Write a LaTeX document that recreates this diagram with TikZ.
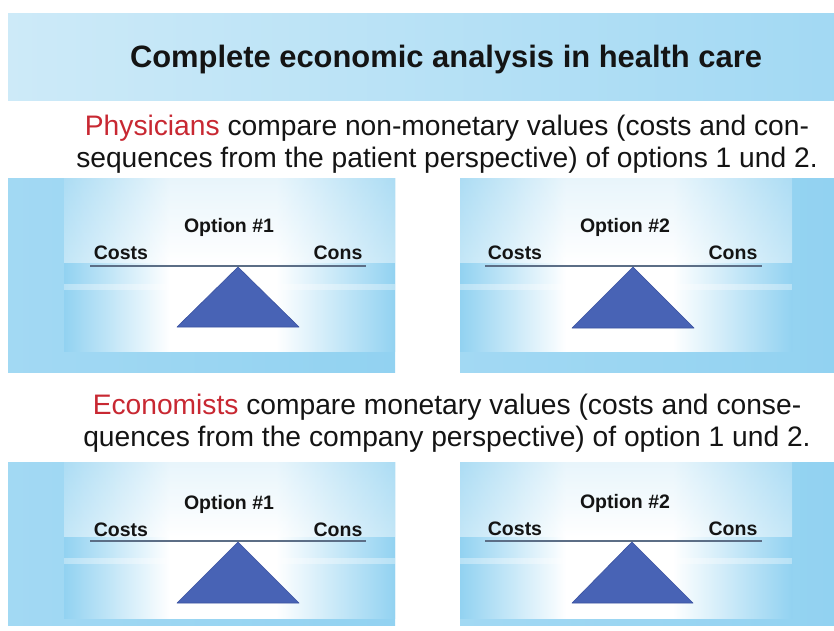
\documentclass[tikz,border=0pt]{standalone}
\usepackage{fontspec}
\setmainfont{Liberation Sans}
\definecolor{sky}{RGB}{146,210,241}
\definecolor{skylight}{RGB}{205,234,248}
\definecolor{beamcol}{RGB}{92,110,134}
\definecolor{trifill}{RGB}{72,99,181}
\definecolor{tridraw}{RGB}{58,82,160}
\definecolor{redword}{RGB}{200,40,50}
\definecolor{ink}{RGB}{20,20,20}
\pgfdeclarehorizontalshading{glowh}{100bp}{color(0bp)=(sky); color(25bp)=(sky); color(41bp)=(white); color(57bp)=(white); color(75bp)=(sky); color(100bp)=(sky)}
\pgfdeclareverticalshading{topfade}{100bp}{color(0bp)=(white); color(25bp)=(white); color(75bp)=(skylight); color(100bp)=(skylight)}
\begin{document}
\begin{tikzpicture}[x=1pt,y=-1pt,
  titletext/.style={font=\fontsize{30.9}{36}\selectfont\bfseries, text=ink},
  bodytext/.style={font=\fontsize{28.2}{31.5}\selectfont, text=ink, align=center},
  lab/.style={font=\fontsize{19.5}{22}\selectfont\bfseries, text=ink, inner sep=0pt},
  beam/.style={draw=beamcol, line width=2pt},
  fulcrum/.style={fill=trifill, draw=tridraw, line width=0.6pt, line join=round},
  outerblock/.style={left color=sky!85!white, middle color=skylight, right color=sky},
  glowpanel/.style={shading=glowh}]
\useasboundingbox (0,0) rectangle (834,630);
\fill[white] (0,0) rectangle (834,630);
% title band
\shade[left color=skylight, middle color=white!94!sky, right color=sky!85!white] (8,13) rectangle (834,100);
% panel rows: outer blocks
\shade[outerblock] (8,178) rectangle (395,372);
\shade[outerblock] (460,178) rectangle (834,372);
\shade[outerblock] (8,462) rectangle (395,625);
\shade[outerblock] (460,462) rectangle (834,625);
% inner glowing panels
\shade[glowpanel] (64,178) rectangle (395,351);
\shade[glowpanel] (460,178) rectangle (792,351);
\shade[glowpanel] (64,462) rectangle (395,618);
\shade[glowpanel] (460,462) rectangle (792,618);
% lighter upper halves
\foreach \xa/\xb/\ya/\yb in {64/395/178/262, 460/792/178/262, 64/395/462/536, 460/792/462/536}{
  \shade[shading=topfade, opacity=0.45] (\xa,\ya) rectangle (\xb,\yb);
}
% horizon streaks
\foreach \yy in {284,558}{
  \fill[white, opacity=0.35] (64,\yy) rectangle (395,\yy+6);
  \fill[white, opacity=0.35] (460,\yy) rectangle (792,\yy+6);
}

% title and sentences
\node[titletext] (title) at (446,60) {Complete economic analysis in health care};
\node[bodytext] (phys) at (447,144) {\textcolor{redword}{Physicians} compare non-monetary values (costs and con-\\sequences from the patient perspective) of options 1 und 2.};
\node[bodytext] (econ) at (447,423) {\textcolor{redword}{Economists} compare monetary values (costs and conse-\\quences from the company perspective) of option 1 und 2.};

% ---- top-left balance
\node[lab] (optA) at (229,227) {Option \#1};
\node[lab] (costsA) at (121,253) {Costs};
\node[lab] (consA) at (338,253) {Cons};
\coordinate (beamAl) at (90,266);
\coordinate (beamAr) at (366,266);
\coordinate (apexA) at (238,267);
\coordinate (baseAl) at (177,327);
\coordinate (baseAr) at (299,327);
\draw[beam] (beamAl) -- (beamAr);
\draw[fulcrum] (apexA) -- (baseAr) -- (baseAl) -- cycle;

% ---- top-right balance
\node[lab] (optB) at (625,227) {Option \#2};
\node[lab] (costsB) at (515,253) {Costs};
\node[lab] (consB) at (733,253) {Cons};
\coordinate (beamBl) at (485,266);
\coordinate (beamBr) at (762,266);
\coordinate (apexB) at (633,267);
\coordinate (baseBl) at (572,328);
\coordinate (baseBr) at (694,328);
\draw[beam] (beamBl) -- (beamBr);
\draw[fulcrum] (apexB) -- (baseBr) -- (baseBl) -- cycle;

% ---- bottom-left balance
\node[lab] (optC) at (229,504) {Option \#1};
\node[lab] (costsC) at (121,530) {Costs};
\node[lab] (consC) at (338,530) {Cons};
\coordinate (beamCl) at (90,541);
\coordinate (beamCr) at (366,541);
\coordinate (apexC) at (238,542);
\coordinate (baseCl) at (177,603);
\coordinate (baseCr) at (299,603);
\draw[beam] (beamCl) -- (beamCr);
\draw[fulcrum] (apexC) -- (baseCr) -- (baseCl) -- cycle;

% ---- bottom-right balance
\node[lab] (optD) at (625,503) {Option \#2};
\node[lab] (costsD) at (515,529) {Costs};
\node[lab] (consD) at (733,529) {Cons};
\coordinate (beamDl) at (485,541);
\coordinate (beamDr) at (762,541);
\coordinate (apexD) at (632,542);
\coordinate (baseDl) at (572,603);
\coordinate (baseDr) at (693,603);
\draw[beam] (beamDl) -- (beamDr);
\draw[fulcrum] (apexD) -- (baseDr) -- (baseDl) -- cycle;
\end{tikzpicture}
\end{document}
